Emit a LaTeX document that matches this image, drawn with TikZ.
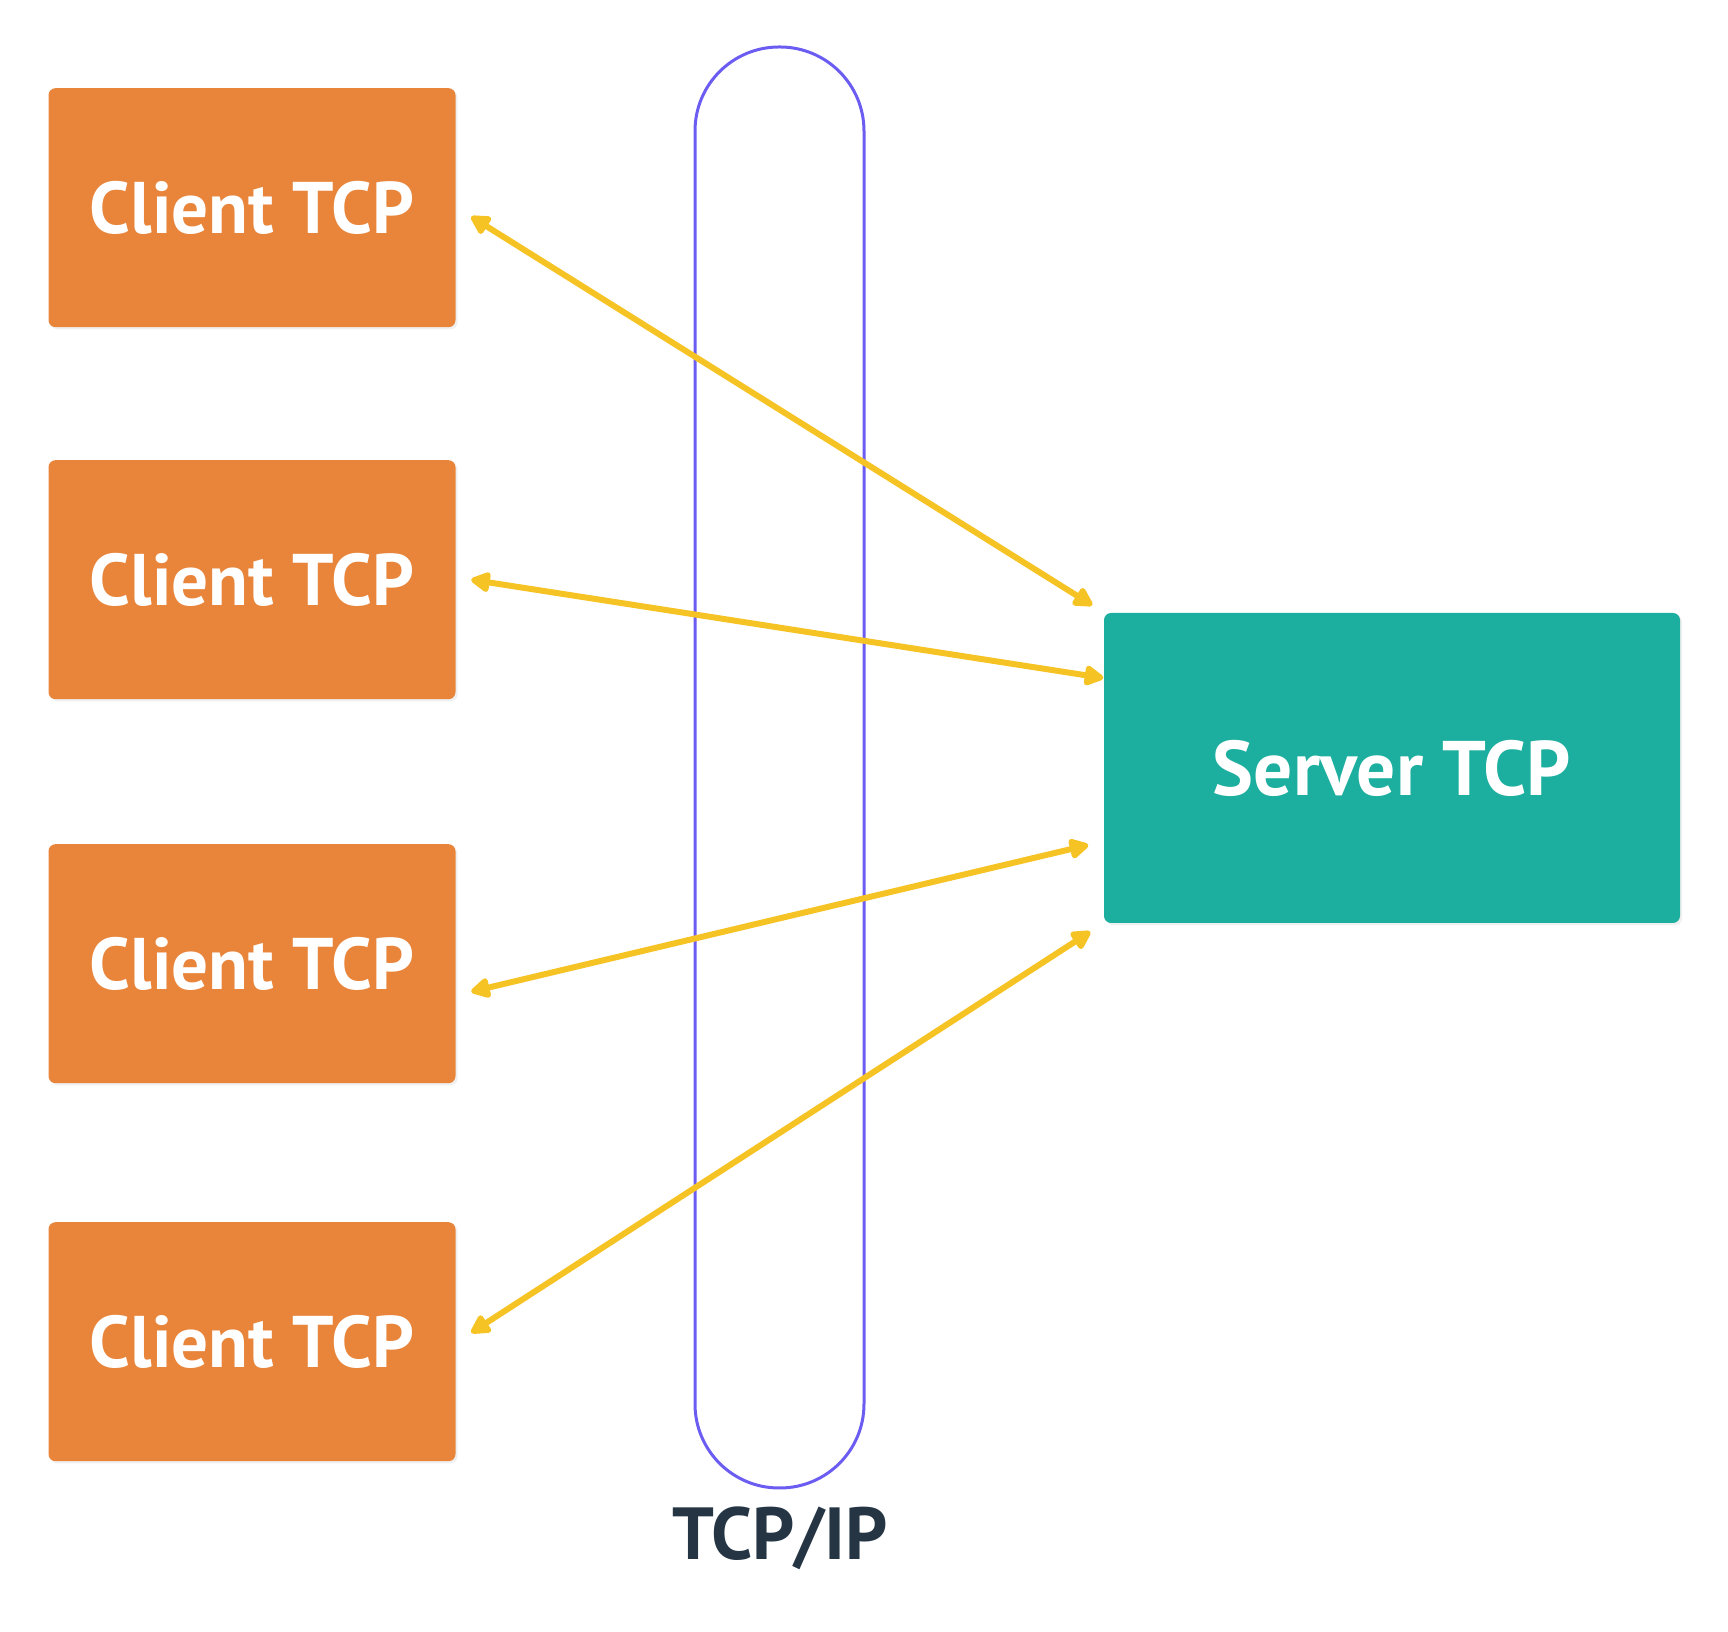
\documentclass[tikz,border=0pt]{standalone}
\usepackage{fontspec}
\setmainfont{PT Sans}
\usetikzlibrary{arrows.meta,shadows}
\definecolor{clientorange}{HTML}{E8853B}
\definecolor{serverteal}{HTML}{1CAE9E}
\definecolor{linkyellow}{HTML}{F6C325}
\definecolor{pipeblue}{HTML}{6B5CF2}
\definecolor{labeldark}{HTML}{263544}
\begin{document}
\begin{tikzpicture}[
    box/.style={rounded corners=2pt, text=white,
      drop shadow={opacity=0.12, shadow xshift=0.6pt, shadow yshift=-0.6pt}},
    client/.style={box, fill=clientorange, minimum width=4.07cm, minimum height=2.39cm,
      font=\bfseries\fontsize{20.8}{25}\selectfont},
    server/.style={box, fill=serverteal, minimum width=5.76cm, minimum height=3.1cm,
      font=\bfseries\fontsize{22}{26}\selectfont},
    link/.style={draw=linkyellow, line width=0.06cm,
      {Triangle[length=0.22cm,width=0.22cm,round]}-{Triangle[length=0.22cm,width=0.22cm,round]}}]
  \useasboundingbox (0,0) rectangle (17.28,-16.32);
  % TCP/IP pipe
  \node[draw=pipeblue, line width=0.03cm, rounded corners=0.84cm, minimum width=1.69cm,
    minimum height=14.41cm] (pipe) at (7.795,-7.675) {};
  \node[text=labeldark, font=\bfseries\fontsize{21}{24}\selectfont] (pipelabel) at (7.8,-15.38) {TCP/IP};
  % clients and server
  \node[client] (c1) at (2.52,-2.077) {Client TCP};
  \node[client] (c2) at (2.52,-5.797) {Client TCP};
  \node[client] (c3) at (2.52,-9.637) {Client TCP};
  \node[client] (c4) at (2.52,-13.417) {Client TCP};
  \node[server] (srv) at (13.92,-7.68) {Server TCP};
  % links
  \draw[link] ([xshift=0.15cm,yshift=-0.09cm]c1.east) -- ([xshift=-0.11cm,yshift=0.07cm]srv.north west);
  \draw[link] ([xshift=0.15cm]c2.east) -- ([yshift=0.9cm]srv.west);
  \draw[link] ([xshift=0.15cm,yshift=-0.28cm]c3.east) -- ([xshift=-0.15cm,yshift=-0.77cm]srv.west);
  \draw[link] ([xshift=0.15cm,yshift=0.09cm]c4.east) -- ([xshift=-0.13cm,yshift=-0.08cm]srv.south west);
\end{tikzpicture}
\end{document}
